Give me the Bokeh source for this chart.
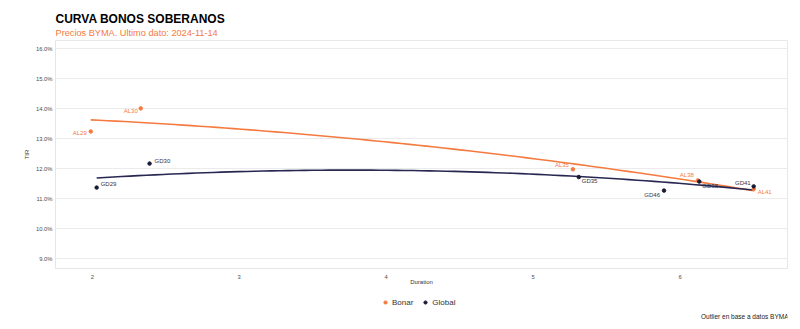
import numpy as np
from bokeh.plotting import figure
from bokeh.layouts import column
from bokeh.models import (ColumnDataSource, Legend, LegendItem, Range1d, Title,
                          Label, FixedTicker, PrintfTickFormatter)
from bokeh.core.properties import value
from bokeh.embed import file_html
from bokeh.resources import INLINE

# ---- data ----
bonar_names = ["AL29", "AL30", "AL35", "AL38", "AL41"]
bonar_dur = [1.99, 2.33, 5.27, 6.12, 6.50]
bonar_tir = [13.25, 14.02, 11.99, 11.62, 11.33]

global_names = ["GD29", "GD30", "GD35", "GD38", "GD41", "GD46"]
global_dur = [2.03, 2.39, 5.31, 6.13, 6.50, 5.89]
global_tir = [11.38, 12.18, 11.73, 11.58, 11.42, 11.28]

y_ticks = [9, 10, 11, 12, 13, 14, 15, 16]
x_ticks = [2, 3, 4, 5, 6]
series_names = ["Bonar", "Global"]

# ---- styles ----
ORANGE = "#F47A3F"
NAVY = "#272752"
DOT_NAVY = "#1a1a33"
FONT = "Liberation Sans"

# label offsets (px) and alignments: style only
bonar_off = dict(dx=[-4, -3, -4, -4, 4], dy=[2, 3, -4, -5, 3],
                 align=["right", "right", "right", "right", "left"])
global_off = dict(dx=[4, 5, 3, 3, -3, -4], dy=[-4, -3, 4, 4, -3, 4],
                  align=["left", "left", "left", "left", "right", "right"])

p = figure(width=800, height=290, output_backend="svg", toolbar_location=None,
           x_range=Range1d(1.75, 6.73), y_range=Range1d(8.683, 16.283),
           min_border_left=55, min_border_right=13, min_border_top=40,
           min_border_bottom=22)
p.background_fill_color = "white"
p.border_fill_color = "white"
p.outline_line_color = "#e8e8e8"

p.xgrid.grid_line_color = None
p.ygrid.grid_line_color = "#ebebeb"
p.ygrid.grid_line_width = 1

for ax in (p.xaxis[0], p.yaxis[0]):
    ax.major_tick_line_color = None
    ax.minor_tick_line_color = None
    ax.major_tick_out = 0
    ax.major_tick_in = 0
    ax.minor_tick_out = 0
    ax.axis_line_color = "#e6e6e6"
    ax.major_label_text_font = FONT
    ax.major_label_text_font_size = "5.8px"
    ax.major_label_text_color = "#4d4d4d"
    ax.axis_label_text_font = FONT
    ax.axis_label_text_font_size = "6px"
    ax.axis_label_text_font_style = "normal"
    ax.axis_label_text_color = "#333333"

p.yaxis.ticker = FixedTicker(ticks=y_ticks)
p.yaxis.formatter = PrintfTickFormatter(format="%.1f%%")
p.yaxis.axis_label = "TIR"
p.yaxis.major_label_standoff = 3
p.yaxis.axis_label_standoff = 3
p.xaxis.ticker = FixedTicker(ticks=x_ticks)
p.xaxis.axis_label = "Duration"
p.xaxis.major_label_standoff = 6
p.xaxis.axis_label_standoff = -3

# ---- fitted curves (quadratic fit of each series) ----
def fit(xs, ys):
    c = np.polyfit(xs, ys, 2)
    xx = np.linspace(min(xs), max(xs), 80)
    return xx, np.polyval(c, xx)

bx, by = fit(bonar_dur, bonar_tir)
gx, gy = fit(global_dur, global_tir)
p.line(bx, by, line_color=ORANGE, line_width=1.6)
p.line(gx, gy, line_color=NAVY, line_width=1.6)

bsrc = ColumnDataSource(dict(x=bonar_dur, y=bonar_tir, name=bonar_names, **bonar_off))
gsrc = ColumnDataSource(dict(x=global_dur, y=global_tir, name=global_names, **global_off))

p.scatter("x", "y", source=bsrc, size=3.5, color=ORANGE)
p.scatter("x", "y", source=gsrc, size=3.5, color=DOT_NAVY)

p.text("x", "y", text="name", source=bsrc, x_offset="dx", y_offset="dy",
       text_align="align", text_baseline="middle", text_font=value(FONT),
       text_font_size="6px", text_color=ORANGE)
p.text("x", "y", text="name", source=gsrc, x_offset="dx", y_offset="dy",
       text_align="align", text_baseline="middle", text_font=value(FONT),
       text_font_size="6px", text_color="#333344")

# ---- titles ----
p.add_layout(Title(text="Precios BYMA. Ultimo dato: 2024-11-14", text_font=FONT,
                   text_font_size="9.2px", text_font_style="normal",
                   text_color=ORANGE, align="left", standoff=6, offset=0), "above")
p.add_layout(Title(text="CURVA BONOS SOBERANOS", text_font=FONT,
                   text_font_size="12px", text_font_style="bold",
                   text_color="black", align="left", standoff=-6, offset=0), "above")

# ---- legend + caption strip (its frame is aligned with the main frame) ----
p2 = figure(width=800, height=39, output_backend="svg", toolbar_location=None,
            x_axis_type=None, y_axis_type=None,
            x_range=Range1d(0, 1), y_range=Range1d(0, 1),
            min_border_left=0, min_border_right=0, min_border_top=0,
            min_border_bottom=0)
p2.outline_line_color = None
p2.grid.visible = False
p2.background_fill_color = "white"
p2.border_fill_color = "white"

# legend proxies: one undrawn (NaN) point each
lb = p2.scatter(x=[np.nan], y=[np.nan], size=3.5, color=ORANGE)
lg = p2.scatter(x=[np.nan], y=[np.nan], size=3.5, color=DOT_NAVY)
legend = Legend(items=[LegendItem(label=series_names[0], renderers=[lb]),
                       LegendItem(label=series_names[1], renderers=[lg])],
                orientation="horizontal", location=(326, 22),
                label_text_font=FONT, label_text_font_size="8px",
                label_text_color="#333333", glyph_width=8, glyph_height=8,
                label_height=10, label_standoff=3, spacing=8, padding=2,
                margin=0, border_line_color=None, background_fill_alpha=0)
p2.add_layout(legend, "center")
p2.add_layout(Label(x=733, y=13, x_units="screen", y_units="screen",
                    text="Outlier en base a datos BYMA", text_font=FONT,
                    text_font_size="6.5px", text_color="#222222",
                    text_align="right", text_baseline="middle"))

open("out.html", "w").write(file_html(column(p, p2, spacing=0), INLINE))
